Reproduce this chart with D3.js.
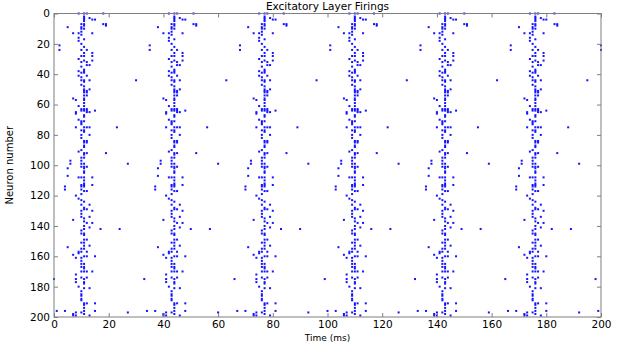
<!DOCTYPE html>
<html>
<head>
<meta charset="utf-8">
<script src="https://cdn.jsdelivr.net/npm/d3@7"></script>
<style>
  body { margin: 0; background: #fff; }
  text { font-family: "DejaVu Sans", sans-serif; }
</style>
</head>
<body>
<svg id="chart" width="629" height="345"></svg>
<script>
// times (ms) where each firing cycle starts; the network repeats every ~33 ms
const cycleStarts = [0, 33, 66, 99, 132, 165, 198];

// firing pattern of one cycle: [neuron, offsets in ms from cycle start]
const cyclePattern = [
  [0, [9, 11, 12, 18]], [2, [11]], [3, [11, 13]], [4, [11, 14, 15]], [5, [11]],
  [7, [10, 11, 18, 19]], [8, [11, 19]], [9, [5, 10]], [10, [10, 11]], [12, [10]],
  [13, [7, 9, 14]], [14, [10]], [16, [9]], [17, [11]], [18, [9]], [20, [10]],
  [21, [2]], [22, [11]], [24, [2, 10, 12]], [26, [11, 14]], [28, [10, 11, 14]],
  [30, [9]], [31, [11, 14]], [32, [10, 12]], [34, [12, 13]], [35, [10]], [37, [11]],
  [38, [9, 11]], [39, [10, 11]], [41, [9, 12]], [42, [10]], [44, [10, 11, 13, 30]],
  [45, [11]], [47, [10]], [48, [11]], [50, [11, 13]], [51, [11, 12]], [52, [11, 12]],
  [54, [11, 12]], [56, [7, 11]], [57, [8, 11]], [59, [11]], [61, [9, 11]],
  [63, [10, 11, 12]], [64, [10, 11, 12, 15]], [65, [8, 12, 13]], [66, [8]],
  [67, [11]], [68, [11]], [70, [9]], [71, [10, 11]], [72, [10]], [73, [10]],
  [75, [8, 11, 12, 13, 23]], [77, [10, 11]], [78, [11]], [80, [10, 13]], [82, [10]],
  [84, [11, 12]], [85, [11, 12]], [87, [11]], [88, [11]], [90, [10]], [91, [9]],
  [92, [11, 12, 19]], [93, [11]], [95, [10, 11]], [97, [6, 10]], [99, [6, 10, 11, 27]],
  [101, [10, 11, 12]], [102, [5, 11]], [104, [11]], [105, [11]], [107, [5]],
  [108, [9, 10, 11, 14]], [110, [11]], [112, [11]], [113, [10, 11, 14]],
  [114, [4, 10, 11]], [116, [4, 10]], [117, [11, 12]], [119, [10]], [120, [8]],
  [122, [9]], [123, [10]], [124, [11]], [126, [10, 13]], [128, [11]], [129, [11, 12]],
  [130, [10, 14]], [132, [10]], [134, [10, 13]], [135, [11]], [136, [7]], [137, [11]],
  [138, [12, 14]], [140, [11]], [141, [13]], [142, [11, 17, 24]], [143, [10]],
  [145, [10, 11]], [146, [11]], [149, [11, 12]], [151, [10, 11]], [153, [11, 13]],
  [154, [5]], [155, [10, 11]], [157, [9, 10, 12]], [158, [9]], [159, [7]],
  [160, [11, 12, 15]], [161, [8, 10]], [163, [10]], [165, [10, 11]], [167, [10, 11]],
  [168, [11]], [170, [10, 11, 12, 14]], [172, [8]], [174, [10, 12]], [175, [0, 8, 11]],
  [177, [8, 11]], [178, [11]], [180, [9]], [181, [11, 13]], [183, [10]], [185, [10]],
  [186, [10]], [188, [10]], [189, [10]], [191, [11, 12, 15]], [192, [11]], [194, [11]],
  [196, [1, 4, 11, 15]], [197, [8, 10, 27]], [198, [7, 11]], [199, [7, 8, 13]]
];

const xTicks = [0, 20, 40, 60, 80, 100, 120, 140, 160, 180, 200];
const yTicks = [0, 20, 40, 60, 80, 100, 120, 140, 160, 180, 200];

const spikes = [];
cycleStarts.forEach(start => {
  cyclePattern.forEach(([neuron, offsets]) => {
    offsets.forEach(o => {
      if (start + o <= 200) spikes.push({ t: start + o, n: neuron });
    });
  });
});

const svg = d3.select("#chart");
const plotL = 54, plotR = 601, plotT = 13.5, plotB = 317;
const axisColor = "#7f7f7f";

const x = d3.scaleLinear().domain([0, 200]).range([plotL, plotR]);
const y = d3.scaleLinear().domain([0, 200]).range([plotT, plotB]);

// spikes
svg.append("g")
  .selectAll("rect")
  .data(spikes)
  .enter()
  .append("rect")
  .attr("x", d => x(d.t) - 1)
  .attr("y", d => y(d.n) - 1)
  .attr("width", 2)
  .attr("height", 2)
  .attr("fill", "#1414ff");

// axes, ticks pointing inward like matlab
function styleAxis(g) {
  g.select(".domain").remove();
  g.selectAll(".tick line").attr("stroke", axisColor);
  g.selectAll(".tick text")
    .attr("fill", "#000")
    .style("font-size", "10.5px")
    .style("font-family", "DejaVu Sans, sans-serif");
}

svg.append("g")
  .attr("transform", `translate(0,${plotB})`)
  .call(d3.axisBottom(x).tickValues(xTicks).tickSizeInner(-4).tickSizeOuter(0).tickPadding(4))
  .call(styleAxis);

svg.append("g")
  .attr("transform", `translate(0,${plotT})`)
  .call(d3.axisTop(x).tickValues(xTicks).tickSizeInner(-4).tickSizeOuter(0).tickFormat(""))
  .call(styleAxis);

svg.append("g")
  .attr("transform", `translate(${plotL},0)`)
  .call(d3.axisLeft(y).tickValues(yTicks).tickSizeInner(-4).tickSizeOuter(0).tickPadding(4))
  .call(styleAxis);

svg.append("g")
  .attr("transform", `translate(${plotR},0)`)
  .call(d3.axisRight(y).tickValues(yTicks).tickSizeInner(-4).tickSizeOuter(0).tickFormat(""))
  .call(styleAxis);

// box
svg.append("rect")
  .attr("x", plotL)
  .attr("y", plotT)
  .attr("width", plotR - plotL)
  .attr("height", plotB - plotT)
  .attr("fill", "none")
  .attr("stroke", axisColor)
  .attr("stroke-width", 1);

// title and labels
svg.append("text")
  .attr("x", (plotL + plotR) / 2)
  .attr("y", 10)
  .attr("text-anchor", "middle")
  .style("font-size", "10.5px")
  .text("Excitatory Layer Firings");

svg.append("text")
  .attr("x", (plotL + plotR) / 2)
  .attr("y", 341)
  .attr("text-anchor", "middle")
  .style("font-size", "9px")
  .text("Time (ms)");

svg.append("text")
  .attr("transform", `translate(13,${(plotT + plotB) / 2}) rotate(-90)`)
  .attr("text-anchor", "middle")
  .style("font-size", "10px")
  .text("Neuron number");
</script>
</body>
</html>
